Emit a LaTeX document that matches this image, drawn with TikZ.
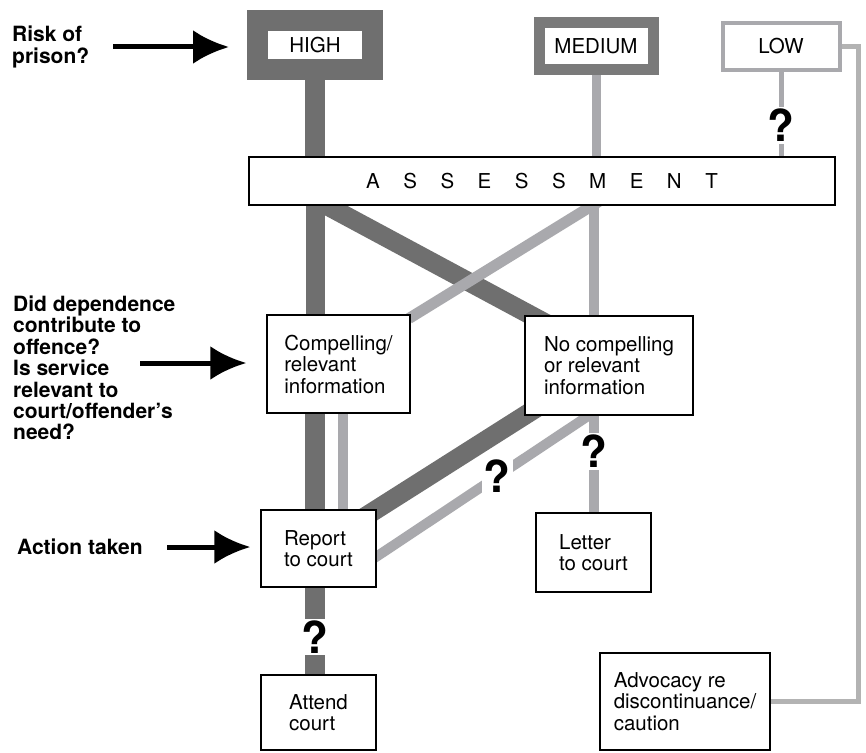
\documentclass[tikz,border=0pt]{standalone}
\usepackage{fontspec}
\setmainfont{TeX Gyre Heros}
\usetikzlibrary{arrows.meta,backgrounds}
\definecolor{bandDark}{HTML}{6F6F6F}
\definecolor{frameMid}{HTML}{7A7A7A}
\definecolor{bandLight}{HTML}{A9A9AD}
\definecolor{lineLow}{HTML}{B3B3B3}
\begin{document}
\begin{tikzpicture}[x=1pt, y=-1pt,
  box/.style={draw, line width=1.4pt, fill=white, align=left, font=\fontsize{20.5}{21.5}\selectfont},
  level/.style={fill=white, font=\fontsize{20.5}{22}\selectfont},
  question/.style={fill=white, text=black, inner sep=2pt, font=\fontsize{44}{44}\selectfont\bfseries},
  heavy/.style={line width=19pt, bandDark},
  light/.style={line width=10pt, bandLight},
  label/.style={align=left, anchor=west, inner sep=0pt, font=\fontsize{21}{21.4}\selectfont\bfseries},
  pointer/.style={line width=5pt, -{Latex[length=36pt, width=34pt]}}]
\useasboundingbox (0,0) rectangle (866,752);

\node[level, draw=bandDark, line width=21pt, minimum width=115pt, minimum height=49pt] (high) at (315,45) {HIGH};
\node[level, draw=frameMid, line width=11pt, minimum width=114pt, minimum height=47pt] (medium) at (596,46) {MEDIUM};
\node[level, draw=bandLight, line width=4pt, minimum width=117pt, minimum height=47pt] (low) at (781,46.5) {LOW};
\node[box, minimum width=586pt, minimum height=48pt, font=\fontsize{20.5}{22}\selectfont] (assess) at (542,181) {\spaceskip=23.5pt A S S E S S M E N T};
\node[box, minimum width=143pt, minimum height=98pt] (comp) at (338.5,364) {Compelling/\\relevant\\information};
\node[box, minimum width=168pt, minimum height=99pt] (nocomp) at (609,365.5) {No compelling\\or relevant\\information};
\node[box, minimum width=115pt, minimum height=77pt] (report) at (318.5,548.5) {Report\\to court};
\node[box, minimum width=115pt, minimum height=79pt] (letter) at (593.5,552.5) {Letter\\to court};
\node[box, minimum width=115pt, minimum height=75pt] (attend) at (318.5,712.5) {Attend\\court};
\node[box, minimum width=170pt, minimum height=97pt] (advocacy) at (685,701.5) {Advocacy re\\discontinuance/\\caution};

\node[label] (risk) at (12,47) {Risk of\\prison?};
\node[label] (depend) at (13,368) {Did dependence\\contribute to\\offence?\\Is service\\relevant to\\court/offender's\\need?};
\node[label] (action) at (17,547) {Action taken};
\coordinate (t1) at (113,47);
\coordinate (t2) at (140,363);
\coordinate (t3) at (167,547);
\draw[pointer, shorten >=18pt] (t1) -- (t1 -| high.west);
\draw[pointer, shorten >=20pt] (t2) -- (t2 -| comp.west);
\draw[pointer, shorten >=10pt] (t3) -- (t3 -| report.west);

\begin{scope}[on background layer]
\fill[white] (0,0) rectangle (866,752);
\draw[heavy, line width=20pt] (high) -- (high |- assess);
\draw[light, line width=9pt] (medium) -- (medium |- assess);
\draw[light, line width=5pt] (low) -- (low |- assess) node[question, pos=0.49] {?};
\draw[lineLow, line width=5pt] (low.east) -- ([xshift=17pt]low.east) |- (advocacy.east);
\draw[heavy] (high |- assess) -- (high |- comp);
\draw[heavy, shorten <=-6pt, shorten >=-18pt] ([xshift=12pt]assess.south -| high) -- ([xshift=-78pt]nocomp.north);
\draw[light] (letter |- assess) -- (letter |- nocomp);
\draw[light, line width=11pt, shorten <=-8pt, shorten >=-8pt] ([xshift=-4pt]assess.south -| medium) -- ([xshift=5pt]comp.north east);
\draw[heavy, line width=20pt] (high |- comp) -- (high |- report);
\draw[light] ([xshift=28pt]high |- comp) -- ([xshift=28pt]high |- report);
\draw[heavy, shorten <=-20pt, shorten >=-20pt] (nocomp.south west) -- (report.north east);
\draw[light, shorten <=-10pt, shorten >=-10pt] ([xshift=-5pt]nocomp.south -| letter) -- ([yshift=-8pt]report.east) node[question, pos=0.43] {?};
\draw[light] (letter |- nocomp) -- (letter) node[question, pos=0.586] {?};
\draw[heavy, line width=20pt] (high |- report) -- (high |- attend) node[question, pos=0.54] {?};
\end{scope}
\end{tikzpicture}
\end{document}
